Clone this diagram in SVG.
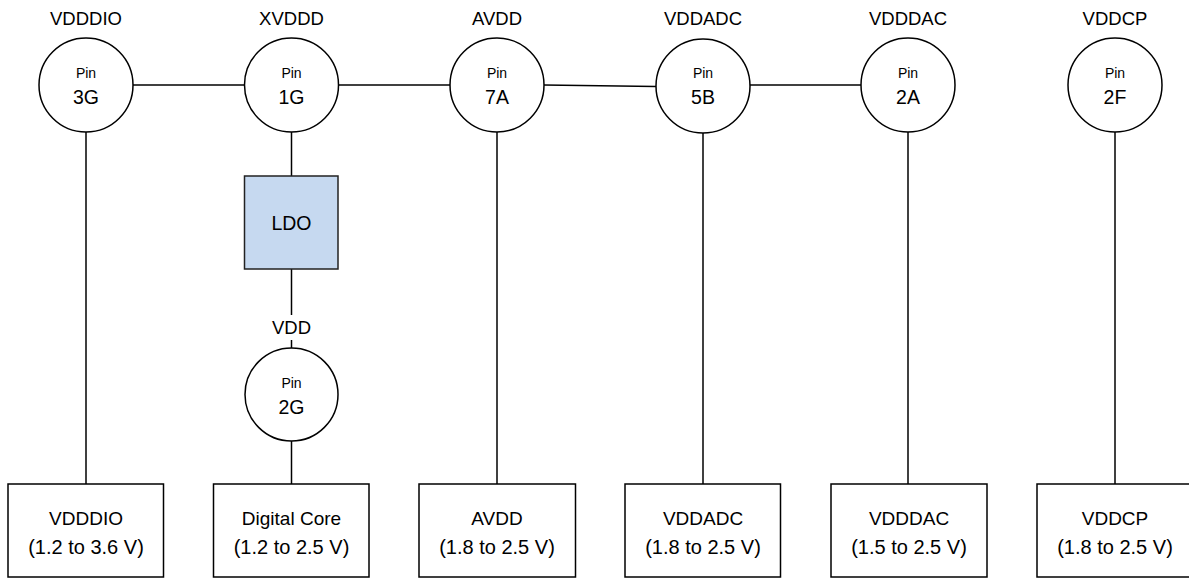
<svg xmlns="http://www.w3.org/2000/svg" width="1189" height="578" viewBox="0 0 1189 578">
<style>
.pin{fill:#fff;stroke:#000;stroke-width:1.5}
.box{fill:#fff;stroke:#000;stroke-width:1.5}
.ldo{fill:#c6d9f0;stroke:#222;stroke-width:1.5}
.ln{stroke:#000;stroke-width:1.5;fill:none}
text{font-family:"Liberation Sans",Arial,sans-serif;fill:#000;text-anchor:middle}
.lbl{font-size:18.5px}
.small{font-size:14px}
.big{font-size:19.5px}
.bt{font-size:19px}
.bv{font-size:20px}
</style>
<rect width="1189" height="578" fill="#fff"/>
<g id="connectors">
<line class="ln" x1="133" y1="85" x2="245" y2="85"/>
<line class="ln" x1="338" y1="85" x2="450" y2="85"/>
<line class="ln" x1="544" y1="85" x2="656" y2="86.5"/>
<line class="ln" x1="750" y1="85" x2="862" y2="85"/>
<line class="ln" x1="86" y1="132" x2="86" y2="484"/>
<line class="ln" x1="291.5" y1="132" x2="291.5" y2="176"/>
<line class="ln" x1="291.5" y1="269" x2="291.5" y2="315"/>
<line class="ln" x1="291.5" y1="340" x2="291.5" y2="348"/>
<line class="ln" x1="291.5" y1="441" x2="291.5" y2="484"/>
<line class="ln" x1="497" y1="132" x2="497" y2="484"/>
<line class="ln" x1="703" y1="133" x2="703" y2="484"/>
<line class="ln" x1="908" y1="132" x2="908" y2="484"/>
<line class="ln" x1="1115" y1="132" x2="1115" y2="484"/>
</g>
<g id="pin3G"><text class="lbl" x="86" y="25">VDDDIO</text><circle class="pin" cx="86" cy="85" r="47"/><text class="small" x="86" y="78">Pin</text><text class="big" x="86" y="104">3G</text></g>
<g id="pin1G"><text class="lbl" x="291.5" y="25">XVDDD</text><circle class="pin" cx="291.5" cy="85" r="47"/><text class="small" x="291.5" y="78">Pin</text><text class="big" x="291.5" y="104">1G</text></g>
<g id="pin7A"><text class="lbl" x="497" y="25">AVDD</text><circle class="pin" cx="497" cy="85" r="47"/><text class="small" x="497" y="78">Pin</text><text class="big" x="497" y="104">7A</text></g>
<g id="pin5B"><text class="lbl" x="703" y="25">VDDADC</text><circle class="pin" cx="703" cy="86" r="47"/><text class="small" x="703" y="78">Pin</text><text class="big" x="703" y="104">5B</text></g>
<g id="pin2A"><text class="lbl" x="908" y="25">VDDDAC</text><circle class="pin" cx="908" cy="85" r="47"/><text class="small" x="908" y="78">Pin</text><text class="big" x="908" y="104">2A</text></g>
<g id="pin2F"><text class="lbl" x="1115" y="25">VDDCP</text><circle class="pin" cx="1115" cy="85" r="47"/><text class="small" x="1115" y="78">Pin</text><text class="big" x="1115" y="104">2F</text></g>
<g id="ldo"><rect class="ldo" x="244.5" y="176" width="93.5" height="93"/><text class="big" x="291.5" y="230">LDO</text></g>
<g id="vddLabel"><text class="lbl" x="291.5" y="333.5">VDD</text></g>
<g id="pin2G"><circle class="pin" cx="291.5" cy="394.5" r="46.5"/><text class="small" x="291.5" y="388">Pin</text><text class="big" x="291.5" y="413.5">2G</text></g>
<g id="boxVDDDIO"><rect class="box" x="8" y="484" width="155.5" height="93"/><text class="bt" x="86" y="525">VDDDIO</text><text class="bv" x="86" y="553.5">(1.2 to 3.6 V)</text></g>
<g id="boxCore"><rect class="box" x="213.5" y="484" width="155.5" height="93"/><text class="bt" x="291.5" y="525">Digital Core</text><text class="bv" x="291.5" y="553.5">(1.2 to 2.5 V)</text></g>
<g id="boxAVDD"><rect class="box" x="419" y="484" width="156.5" height="93"/><text class="bt" x="497" y="525">AVDD</text><text class="bv" x="497" y="553.5">(1.8 to 2.5 V)</text></g>
<g id="boxVDDADC"><rect class="box" x="625" y="484" width="155.5" height="93"/><text class="bt" x="703" y="525">VDDADC</text><text class="bv" x="703" y="553.5">(1.8 to 2.5 V)</text></g>
<g id="boxVDDDAC"><rect class="box" x="831" y="484" width="156" height="93"/><text class="bt" x="909" y="525">VDDDAC</text><text class="bv" x="909" y="553.5">(1.5 to 2.5 V)</text></g>
<g id="boxVDDCP"><rect class="box" x="1037" y="484" width="160" height="93"/><text class="bt" x="1115" y="525">VDDCP</text><text class="bv" x="1115" y="553.5">(1.8 to 2.5 V)</text></g>
</svg>
